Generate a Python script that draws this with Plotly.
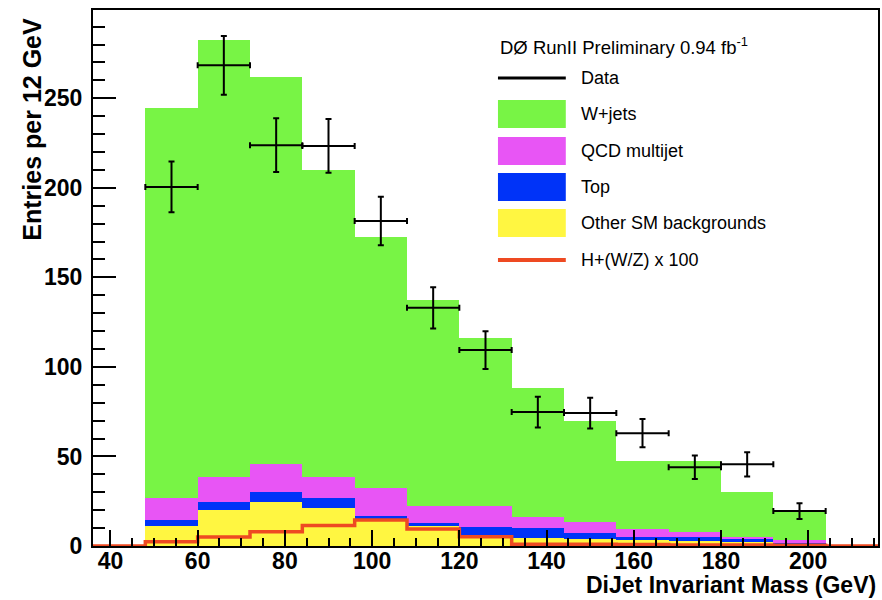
import plotly.graph_objects as go

# ---------------- data ----------------
bin_centers = [54, 66, 78, 90, 102, 114, 126, 138, 150, 162, 174, 186, 198]
other_sm = [11.2, 20.1, 24.4, 21.0, 15.2, 11.3, 6.0, 4.5, 4.0, 3.3, 3.0, 2.5, 1.2]
top_bkg = [3.1, 4.3, 5.6, 6.0, 1.5, 1.4, 4.8, 5.5, 3.0, 1.9, 1.8, 1.3, 1.0]
qcd = [12.7, 14.3, 15.8, 11.7, 15.8, 9.8, 11.7, 6.4, 6.6, 4.1, 3.0, 1.2, 0.9]
wjets = [217.6, 243.7, 216.1, 171.1, 139.8, 114.8, 93.5, 71.6, 56.4, 38.2, 39.7, 25.0, 17.0]

data_vals = [200.5, 268.4, 223.8, 223.4, 181.5, 133.0, 109.4, 74.8, 74.2, 63.0, 44.0, 45.6, 19.5]
data_err = [14.2, 16.4, 15.0, 15.0, 13.5, 11.5, 10.5, 8.6, 8.6, 7.9, 6.6, 6.8, 4.4]

hwz_edges = [36, 48, 60, 72, 84, 96, 108, 120, 132, 144, 156, 168, 180, 192, 204, 216]
hwz_x100 = [0, 2.4, 5.0, 8.0, 11.5, 14.5, 9.5, 5.2, 1.0, 1.0, 0.8, 0.5, 0.6, 0.4, 0]

x_ticks = [40, 60, 80, 100, 120, 140, 160, 180, 200]
y_ticks = [0, 50, 100, 150, 200, 250]

BIN_W = 12
C_GREEN = "#78F445"
C_MAG = "#E855F5"
C_BLUE = "#0033F8"
C_YEL = "#FFF641"
C_RED = "#EE4A22"

fig = go.Figure()
for name, vals, col in [("Other SM backgrounds", other_sm, C_YEL),
                        ("Top", top_bkg, C_BLUE),
                        ("QCD multijet", qcd, C_MAG),
                        ("W+jets", wjets, C_GREEN)]:
    fig.add_trace(go.Bar(x=bin_centers, y=vals, width=BIN_W, name=name,
                         marker=dict(color=col, line=dict(width=0)),
                         showlegend=False))

step_x = hwz_edges
step_y = hwz_x100 + [hwz_x100[-1]]
fig.add_trace(go.Scatter(x=step_x, y=step_y, mode="lines", line_shape="hv",
                         line=dict(color=C_RED, width=3.5), showlegend=False,
                         name="H+(W/Z) x 100"))

fig.add_trace(go.Scatter(x=bin_centers, y=data_vals, mode="markers",
                         marker=dict(size=1, color="black"),
                         error_x=dict(type="constant", value=BIN_W / 2, color="black",
                                      thickness=2, width=3),
                         error_y=dict(type="data", array=data_err, color="black",
                                      thickness=2, width=3),
                         showlegend=False, name="Data"))

FONT = "Liberation Sans, Arial, sans-serif"

fig.update_layout(
    width=882, height=600,
    margin=dict(l=93, r=2, t=10, b=54),
    paper_bgcolor="white", plot_bgcolor="white",
    barmode="stack", bargap=0,
    showlegend=False,
    font=dict(family=FONT, color="black"),
)
fig.update_xaxes(range=[36, 216], showgrid=False, zeroline=False,
                 showline=True, linecolor="black", linewidth=2, mirror=True,
                 ticks="inside", ticklen=16, tickwidth=1.5, tickcolor="black",
                 tickvals=x_ticks, ticktext=[str(v) for v in x_ticks],
                 minor=dict(dtick=5, ticks="inside", ticklen=8, tickcolor="black", tickwidth=1.5),
                 tickfont=dict(family=FONT, size=23, color="black", weight="bold"),
                 ticklabelstandoff=-7)
fig.update_yaxes(range=[0, 299.3], showgrid=False, zeroline=False,
                 showline=True, linecolor="black", linewidth=2, mirror=True,
                 ticks="inside", ticklen=23, tickwidth=1.5, tickcolor="black",
                 tickvals=y_ticks, ticktext=[str(v) for v in y_ticks],
                 minor=dict(dtick=10, ticks="inside", ticklen=12, tickcolor="black", tickwidth=1.5),
                 tickfont=dict(family=FONT, size=23, color="black", weight="bold"),
                 ticklabelstandoff=4)

# pixel -> paper helpers (plot area: x 93..880, y 10..546)
def px(x):
    return (x - 93) / 787.0

def py(y):
    return (546 - y) / 536.0

annotations = [
    dict(text="DiJet Invariant Mass (GeV)", x=1.0, y=py(585), xref="paper", yref="paper",
         xanchor="right", yanchor="middle", showarrow=False,
         font=dict(family=FONT, size=23, color="black", weight="bold")),
    dict(text="Entries per 12 GeV", x=px(31), y=py(16), xref="paper", yref="paper",
         xanchor="center", yanchor="top", textangle=-90, showarrow=False,
         font=dict(family=FONT, size=25, color="black", weight="bold")),
    dict(text="DØ RunII Preliminary 0.94 fb<sup>-1</sup>", x=px(499), y=py(46),
         xref="paper", yref="paper", xanchor="left", yanchor="middle", showarrow=False,
         font=dict(family=FONT, size=18.5, color="black")),
]

legend_items = [
    ("Data", "line", "black", 78),
    ("W+jets", "box", C_GREEN, 114),
    ("QCD multijet", "box", C_MAG, 151),
    ("Top", "box", C_BLUE, 187),
    ("Other SM backgrounds", "box", C_YEL, 223),
    ("H+(W/Z) x 100", "line", C_RED, 260),
]
shapes = []
for label, kind, col, yc in legend_items:
    if kind == "box":
        shapes.append(dict(type="rect", xref="paper", yref="paper",
                           x0=px(499), x1=px(567), y0=py(yc - 14), y1=py(yc + 14),
                           fillcolor=col, line=dict(width=0)))
    else:
        shapes.append(dict(type="line", xref="paper", yref="paper",
                           x0=px(499), x1=px(567), y0=py(yc), y1=py(yc),
                           line=dict(color=col, width=3 if col == "black" else 4)))
    annotations.append(dict(text=label, x=px(580), y=py(yc), xref="paper", yref="paper",
                            xanchor="left", yanchor="middle", showarrow=False,
                            font=dict(family=FONT, size=18, color="black")))

fig.update_layout(annotations=annotations, shapes=shapes)
fig.write_html("out.html")
